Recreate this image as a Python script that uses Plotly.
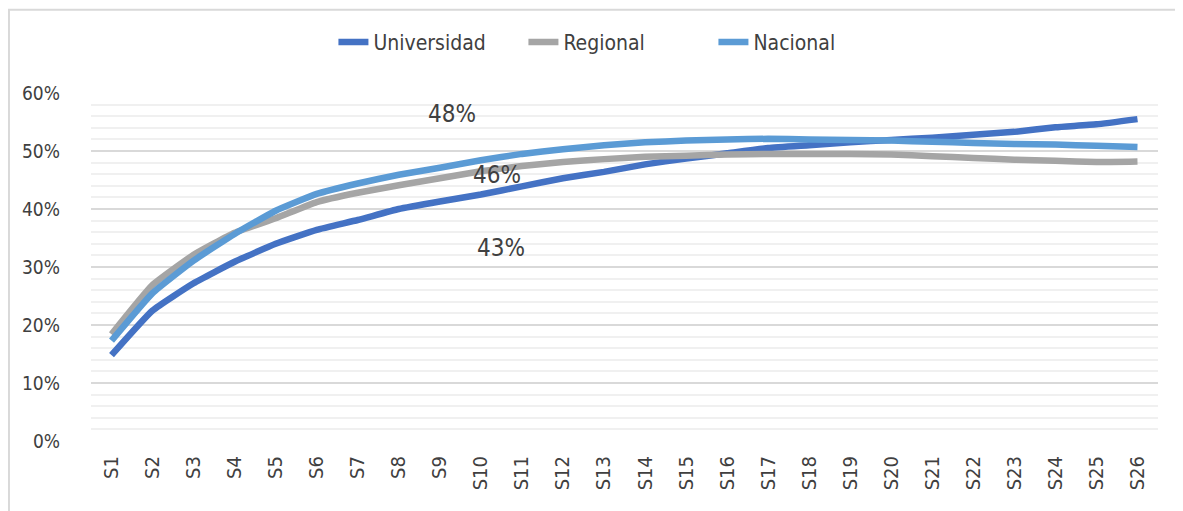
import plotly.graph_objects as go

semanas = ["S%d" % i for i in range(1, 27)]

universidad = [0.148, 0.225, 0.272, 0.309, 0.340, 0.364, 0.381, 0.400, 0.413, 0.425,
               0.439, 0.453, 0.464, 0.477, 0.487, 0.496, 0.505, 0.510, 0.515, 0.519,
               0.523, 0.528, 0.533, 0.541, 0.546, 0.555]
regional = [0.184, 0.269, 0.321, 0.359, 0.384, 0.412, 0.428, 0.441, 0.453, 0.465,
            0.474, 0.481, 0.486, 0.490, 0.492, 0.494, 0.495, 0.495, 0.495, 0.494,
            0.491, 0.488, 0.485, 0.483, 0.481, 0.482]
nacional = [0.173, 0.255, 0.311, 0.357, 0.397, 0.426, 0.444, 0.459, 0.471, 0.484,
            0.495, 0.503, 0.510, 0.515, 0.518, 0.520, 0.521, 0.520, 0.519, 0.518,
            0.516, 0.514, 0.512, 0.511, 0.509, 0.507]

etiquetas = ["48%", "46%", "43%"]
etiq_x = [8.3, 9.4, 9.5]
etiq_y = [0.564, 0.459, 0.333]

series = [("Universidad", universidad, "#4472C4"),
          ("Regional", regional, "#A5A5A5"),
          ("Nacional", nacional, "#5B9BD5")]

fuente = "DejaVu Sans Condensed, Roboto, sans-serif"

fig = go.Figure()
for nombre, valores, color in series:
    fig.add_trace(go.Scatter(x=semanas, y=valores, name=nombre, mode="lines",
                             line=dict(color=color, width=6.5, shape="spline", smoothing=0.4)))

for t, xx, yy in zip(etiquetas, etiq_x, etiq_y):
    fig.add_annotation(x=xx, y=yy, xref="x", yref="y", text=t, showarrow=False,
                       font=dict(size=24, color="#404040", family=fuente))

# borde del grafico
fig.add_shape(type="rect", xref="paper", yref="paper", x0=-0.0769, x1=1.2, y0=-0.25, y1=1.239,
              line=dict(color="#D9D9D9", width=2), layer="below")

fig.update_layout(
    width=1183, height=511,
    margin=dict(l=83, r=33, t=85, b=78, autoexpand=False),
    paper_bgcolor="white", plot_bgcolor="white",
    font=dict(family=fuente, color="#404040", size=18),
    legend=dict(orientation="h", xref="container", yref="container", x=0.516, xanchor="center",
                y=0.933, yanchor="middle", font=dict(size=21), traceorder="normal",
                entrywidth=145),
    xaxis=dict(tickangle=-90, showgrid=False, showline=False, ticks="", automargin=False,
               tickfont=dict(size=20), range=[-0.5, 25.5], ticklabelstandoff=10),
    yaxis=dict(range=[0, 0.6], dtick=0.1, tickformat=".0%", gridcolor="#D9D9D9",
               gridwidth=1.5, zeroline=False, showline=False, ticks="", automargin=False,
               tickfont=dict(size=19), ticklabelstandoff=30,
               minor=dict(dtick=0.02, showgrid=True, gridcolor="#F0F0F0", gridwidth=1.5)),
)

fig.write_html("out.html")
